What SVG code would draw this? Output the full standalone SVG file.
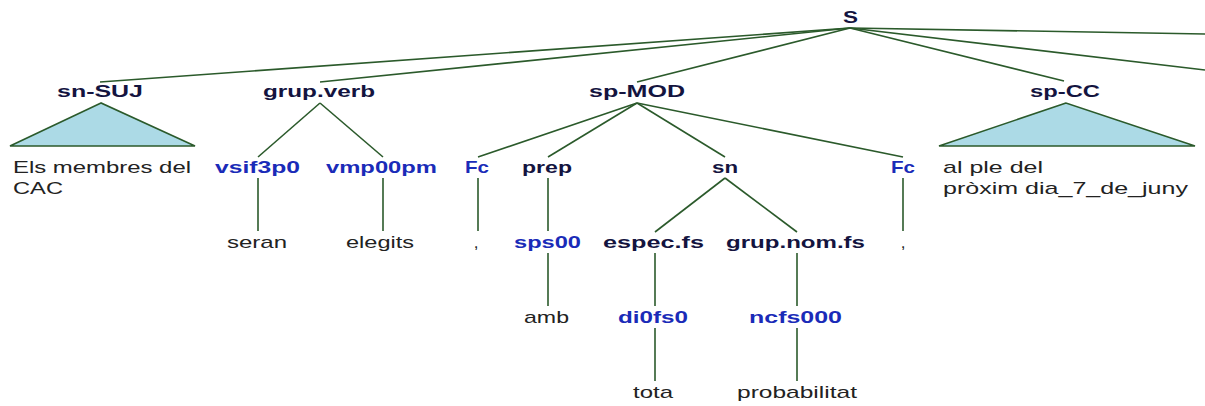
<svg xmlns="http://www.w3.org/2000/svg" width="1205" height="406" viewBox="0 0 1205 406">
<style>
.e{stroke:#2b5a2b;stroke-width:1.6;fill:none}
.tri{stroke:#2b5a2b;stroke-width:1.6;fill:#acdae6}
.nt{font-family:"Liberation Sans",Arial,sans-serif;font-weight:bold;font-size:17px;fill:#14143f}
.pt{font-family:"Liberation Sans",Arial,sans-serif;font-weight:bold;font-size:17px;fill:#1a2bb8}
.w{font-family:"Liberation Sans",Arial,sans-serif;font-size:17px;fill:#222}
</style>
<rect width="1205" height="406" fill="#fff"/>
<g id="connectors">
<line class="e" x1="850" y1="28" x2="100" y2="82"/>
<line class="e" x1="850" y1="28" x2="320" y2="82"/>
<line class="e" x1="850" y1="28" x2="637" y2="82"/>
<line class="e" x1="850" y1="28" x2="1064" y2="81"/>
<line class="e" x1="850" y1="28" x2="1205" y2="34"/>
<line class="e" x1="850" y1="28" x2="1205" y2="70"/>
<line class="e" x1="320" y1="103" x2="258" y2="157"/>
<line class="e" x1="320" y1="103" x2="383" y2="157"/>
<line class="e" x1="258" y1="178" x2="258" y2="231"/>
<line class="e" x1="383" y1="178" x2="383" y2="231"/>
<line class="e" x1="637" y1="103" x2="478" y2="157"/>
<line class="e" x1="637" y1="103" x2="548" y2="157"/>
<line class="e" x1="637" y1="103" x2="725" y2="157"/>
<line class="e" x1="637" y1="103" x2="903" y2="157"/>
<line class="e" x1="478" y1="178" x2="478" y2="231"/>
<line class="e" x1="548" y1="178" x2="548" y2="231"/>
<line class="e" x1="548" y1="253" x2="548" y2="306"/>
<line class="e" x1="725" y1="178" x2="655" y2="232"/>
<line class="e" x1="725" y1="178" x2="797" y2="232"/>
<line class="e" x1="655" y1="253" x2="655" y2="306"/>
<line class="e" x1="655" y1="328" x2="655" y2="381"/>
<line class="e" x1="797" y1="253" x2="797" y2="306"/>
<line class="e" x1="797" y1="328" x2="797" y2="381"/>
<line class="e" x1="903" y1="178" x2="903" y2="231"/>
</g>
<g id="S"><text class="nt" x="843" y="23" textLength="15" lengthAdjust="spacingAndGlyphs">S</text></g>
<g id="sn-SUJ">
<text class="nt" x="57" y="97" textLength="86" lengthAdjust="spacingAndGlyphs">sn-SUJ</text>
<polygon class="tri" points="101,103 10,146 195,146"/>
<text class="w" x="13" y="173" textLength="178" lengthAdjust="spacingAndGlyphs">Els membres del</text>
<text class="w" x="13" y="194" textLength="50" lengthAdjust="spacingAndGlyphs">CAC</text>
</g>
<g id="grup.verb"><text class="nt" x="263" y="97" textLength="112" lengthAdjust="spacingAndGlyphs">grup.verb</text></g>
<g id="vsif3p0"><text class="pt" x="215" y="173" textLength="85" lengthAdjust="spacingAndGlyphs">vsif3p0</text></g>
<g id="vmp00pm"><text class="pt" x="326" y="173" textLength="111" lengthAdjust="spacingAndGlyphs">vmp00pm</text></g>
<g id="seran"><text class="w" x="227" y="248" textLength="60" lengthAdjust="spacingAndGlyphs">seran</text></g>
<g id="elegits"><text class="w" x="346" y="248" textLength="68" lengthAdjust="spacingAndGlyphs">elegits</text></g>
<g id="sp-MOD"><text class="nt" x="589" y="97" textLength="96" lengthAdjust="spacingAndGlyphs">sp-MOD</text></g>
<g id="Fc1"><text class="pt" x="465" y="173" textLength="24" lengthAdjust="spacingAndGlyphs">Fc</text></g>
<g id="comma1"><text class="w" x="476" y="248" text-anchor="middle">,</text></g>
<g id="prep"><text class="nt" x="522" y="173" textLength="50" lengthAdjust="spacingAndGlyphs">prep</text></g>
<g id="sps00"><text class="pt" x="514" y="248" textLength="67" lengthAdjust="spacingAndGlyphs">sps00</text></g>
<g id="amb"><text class="w" x="524" y="323" textLength="45" lengthAdjust="spacingAndGlyphs">amb</text></g>
<g id="sn"><text class="nt" x="712" y="173" textLength="26" lengthAdjust="spacingAndGlyphs">sn</text></g>
<g id="espec.fs"><text class="nt" x="603" y="248" textLength="101" lengthAdjust="spacingAndGlyphs">espec.fs</text></g>
<g id="di0fs0"><text class="pt" x="618" y="323" textLength="70" lengthAdjust="spacingAndGlyphs">di0fs0</text></g>
<g id="tota"><text class="w" x="633" y="398" textLength="40" lengthAdjust="spacingAndGlyphs">tota</text></g>
<g id="grup.nom.fs"><text class="nt" x="726" y="248" textLength="139" lengthAdjust="spacingAndGlyphs">grup.nom.fs</text></g>
<g id="ncfs000"><text class="pt" x="749" y="323" textLength="93" lengthAdjust="spacingAndGlyphs">ncfs000</text></g>
<g id="probabilitat"><text class="w" x="737" y="398" textLength="120" lengthAdjust="spacingAndGlyphs">probabilitat</text></g>
<g id="Fc2"><text class="pt" x="891" y="173" textLength="24" lengthAdjust="spacingAndGlyphs">Fc</text></g>
<g id="comma2"><text class="w" x="903" y="248" text-anchor="middle">,</text></g>
<g id="sp-CC">
<text class="nt" x="1030" y="97" textLength="70" lengthAdjust="spacingAndGlyphs">sp-CC</text>
<polygon class="tri" points="1066,103 939,146 1195,146"/>
<text class="w" x="943" y="173" textLength="100" lengthAdjust="spacingAndGlyphs">al ple del</text>
<text class="w" x="943" y="194" textLength="245" lengthAdjust="spacingAndGlyphs">pròxim dia_7_de_juny</text>
</g>
</svg>
